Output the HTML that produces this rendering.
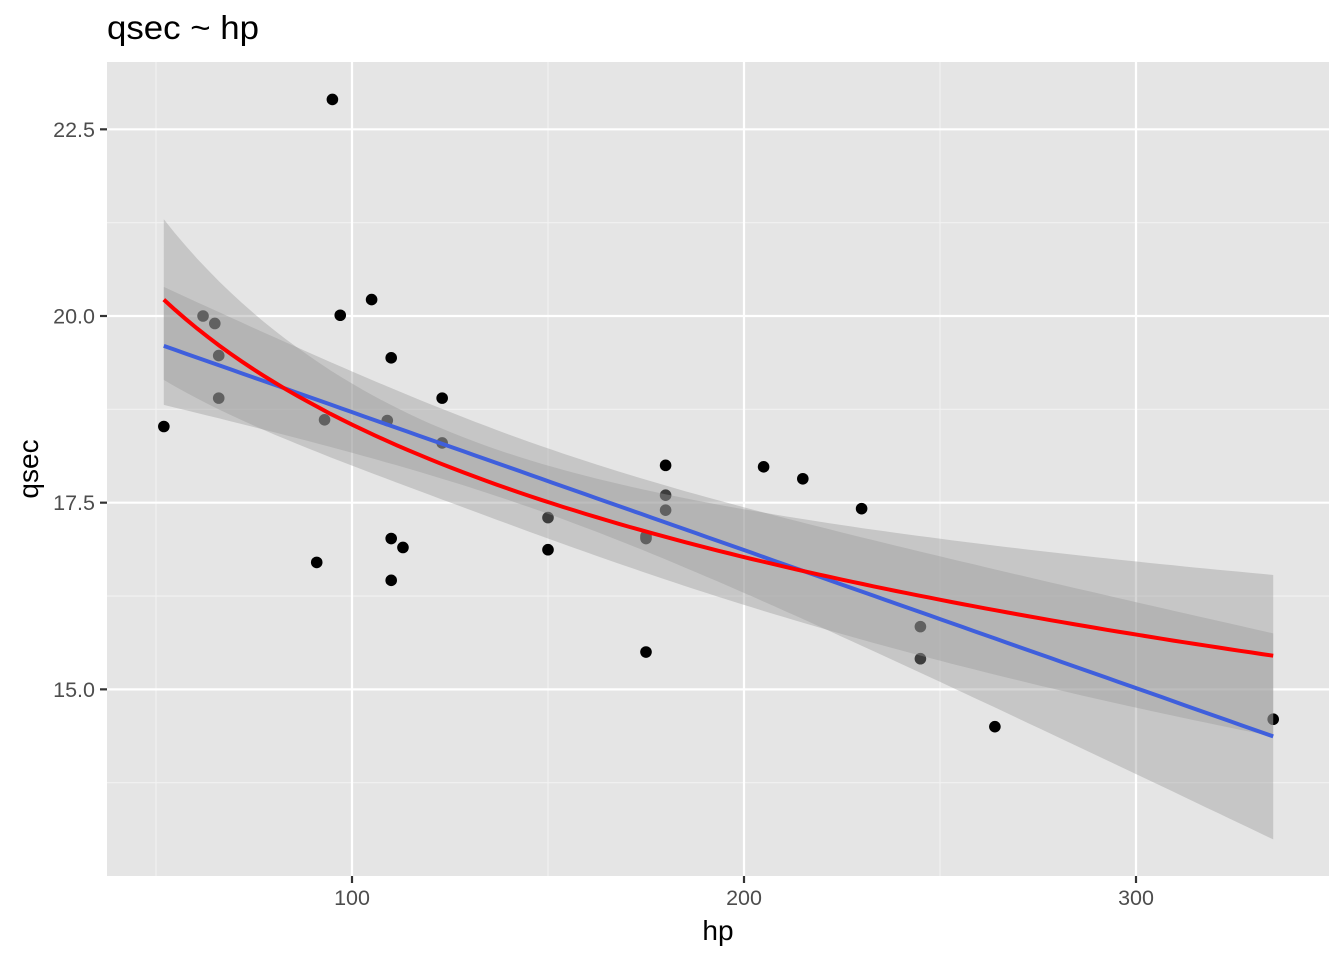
<!DOCTYPE html>
<html><head><meta charset="utf-8"><style>
body{margin:0;background:#fff;}
text{font-family:"Liberation Sans",Arial,sans-serif;}
</style></head><body>
<svg id="s" width="1344" height="960" xmlns="http://www.w3.org/2000/svg"></svg>
<script>
const X=h=>352+(h-100)*3.92, Y=q=>316-(q-20)*74.67;
const L=107,R=1329,T=62,B=876;
let s='';
s+=`<rect width="1344" height="960" fill="#fff"/><rect x="${L}" y="${T}" width="${R-L}" height="${B-T}" fill="#e5e5e5"/>`;
[50,150,250].forEach(h=>s+=`<line x1="${X(h)}" x2="${X(h)}" y1="${T}" y2="${B}" stroke="#f2f2f2" stroke-width="1.1"/>`);
[13.75,16.25,18.75,21.25].forEach(q=>s+=`<line y1="${Y(q)}" y2="${Y(q)}" x1="${L}" x2="${R}" stroke="#f2f2f2" stroke-width="1.1"/>`);
[100,200,300].forEach(h=>s+=`<line x1="${X(h)}" x2="${X(h)}" y1="${T}" y2="${B}" stroke="#fff" stroke-width="2.2"/><line x1="${X(h)}" x2="${X(h)}" y1="${B}" y2="${B+7}" stroke="#333" stroke-width="2.2"/><text x="${X(h)}" y="${B+29}" font-size="21.5" fill="#4d4d4d" text-anchor="middle">${h}</text>`);
[[15,'15.0'],[17.5,'17.5'],[20,'20.0'],[22.5,'22.5']].forEach(([q,t])=>s+=`<line y1="${Y(q)}" y2="${Y(q)}" x1="${L}" x2="${R}" stroke="#fff" stroke-width="2.2"/><line y1="${Y(q)}" y2="${Y(q)}" x1="${L-7}" x2="${L}" stroke="#333" stroke-width="2.2"/><text x="${L-12}" y="${Y(q)+7.5}" font-size="21.5" fill="#4d4d4d" text-anchor="end">${t}</text>`);
const d=[[110,16.46],[110,17.02],[93,18.61],[110,19.44],[175,17.02],[105,20.22],[245,15.84],[62,20],[95,22.9],[123,18.3],[123,18.9],[180,17.4],[180,17.6],[180,18],[205,17.98],[215,17.82],[230,17.42],[66,19.47],[52,18.52],[65,19.9],[97,20.01],[150,16.87],[150,17.3],[245,15.41],[175,17.05],[66,18.9],[91,16.7],[113,16.9],[264,14.5],[175,15.5],[335,14.6],[109,18.6]];
d.forEach(([h,q])=>s+=`<circle cx="${X(h)}" cy="${Y(q)}" r="5.8" fill="#000"/>`);
const hs=[];for(let i=0;i<=100;i++)hs.push(52+(335-52)*i/100);
const blue=h=>Y(19.6+(14.37-19.6)*(h-52)/283), bw=h=>Math.sqrt(1068+0.2691*(h-146.7)**2);
const red=h=>Y(20.22-2.56*(Math.log(h)-Math.log(52))), rw=h=>Math.sqrt(1225+6063*(Math.log(h)-4.88)**2);
function band(f,w){let up=hs.map(h=>`${X(h).toFixed(1)},${(f(h)-w(h)).toFixed(1)}`);let lo=hs.slice().reverse().map(h=>`${X(h).toFixed(1)},${(f(h)+w(h)).toFixed(1)}`);return `<polygon points="${up.concat(lo).join(' ')}" fill="#999" fill-opacity="0.4"/>`;}
s+=band(blue,bw)+band(red,rw);
s+=`<polyline points="${hs.map(h=>X(h).toFixed(1)+','+blue(h).toFixed(1)).join(' ')}" fill="none" stroke="#3f5fdc" stroke-width="4"/>`;
s+=`<polyline points="${hs.map(h=>X(h).toFixed(1)+','+red(h).toFixed(1)).join(' ')}" fill="none" stroke="#ff0000" stroke-width="4"/>`;
s+=`<text x="107" y="39" font-size="33" fill="#000" textLength="152" lengthAdjust="spacingAndGlyphs">qsec ~ hp</text>`;
s+=`<text x="718" y="940" font-size="28" fill="#000" text-anchor="middle">hp</text>`;
s+=`<text transform="translate(38,469) rotate(-90)" font-size="28" fill="#000" text-anchor="middle">qsec</text>`;
document.getElementById('s').innerHTML=s;
</script>
</body></html>
